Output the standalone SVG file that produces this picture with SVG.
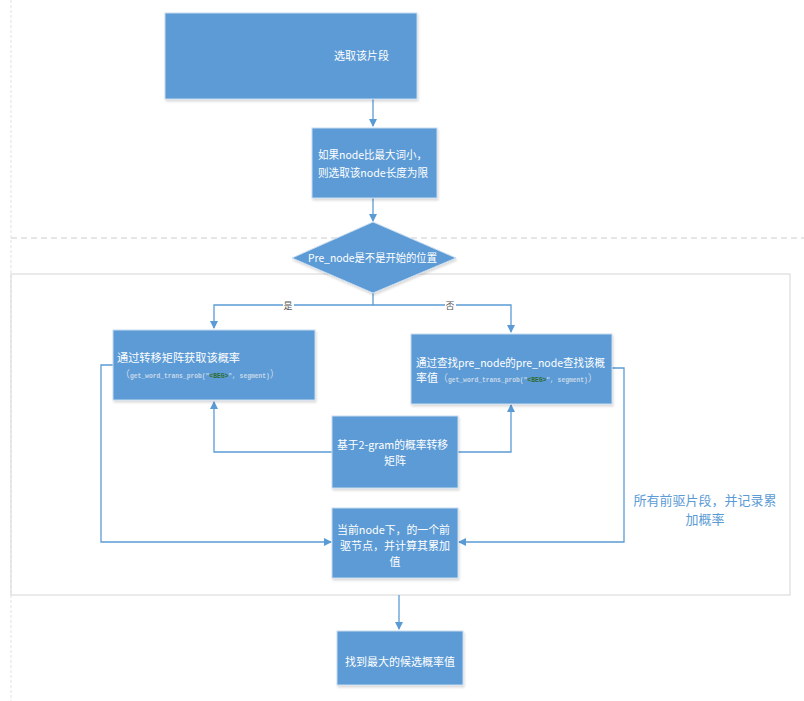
<svg xmlns="http://www.w3.org/2000/svg" width="804" height="701" viewBox="0 0 804 701">
<defs>
<marker id="ah" markerWidth="8" markerHeight="8" refX="7" refY="4" orient="auto" markerUnits="userSpaceOnUse">
<path d="M0,0 L8,4 L0,8 z" fill="#5b9bd5"/>
</marker>
<filter id="sh" x="-5%" y="-5%" width="110%" height="115%">
<feDropShadow dx="1" dy="2" stdDeviation="1.2" flood-color="#000" flood-opacity="0.15"/>
</filter>
</defs>
<style>
.box{fill:#5b9bd5;stroke:#c9dcef;stroke-width:1;filter:url(#sh)}
.t{font-family:"Noto Sans CJK SC","Liberation Sans",sans-serif;font-size:11px;fill:#ffffff}
.c{font-family:"Liberation Mono",monospace;font-size:6.3px;fill:#c9d9ea;font-weight:bold}
.p{fill:#c9d9ea}
.g{fill:#2e6b2e}
.e{fill:none;stroke:#5b9bd5;stroke-width:1.3}
.lab{font-family:"Noto Sans CJK SC",sans-serif;font-size:9px;fill:#555}
.side{font-family:"Noto Sans CJK SC","Liberation Sans",sans-serif;font-size:13px;fill:#5b9bd5}
</style>
<rect width="804" height="701" fill="#ffffff"/>
<g id="guides">
<line x1="11" y1="0" x2="11" y2="701" stroke="#e2e2e2" stroke-dasharray="3,2"/>
<line x1="11" y1="238" x2="804" y2="238" stroke="#cccccc" stroke-dasharray="6,4"/>
<rect x="11" y="274" width="779" height="321" fill="none" stroke="#dcdcdc" stroke-width="1.2"/>
</g>
<g id="connectors">
<path class="e" d="M373,99 V126" marker-end="url(#ah)"/>
<path class="e" d="M373,198 V221" marker-end="url(#ah)"/>
<path class="e" d="M373,293 V305 H214 V328" marker-end="url(#ah)"/>
<path class="e" d="M373,305 H511 V332" marker-end="url(#ah)"/>
<path class="e" d="M332,452 H214 V402" marker-end="url(#ah)"/>
<path class="e" d="M458,452 H511 V405" marker-end="url(#ah)"/>
<path class="e" d="M113,365 H101 V542 H331" marker-end="url(#ah)"/>
<path class="e" d="M612,368 H624 V542 H459" marker-end="url(#ah)"/>
<path class="e" d="M399,595 V629" marker-end="url(#ah)"/>
<rect x="283" y="299" width="11" height="12" fill="#fff"/>
<text class="lab" x="288" y="309" text-anchor="middle">是</text>
<rect x="445" y="299" width="11" height="12" fill="#fff"/>
<text class="lab" x="450" y="309" text-anchor="middle">否</text>
</g>
<g id="n1">
<rect class="box" x="165" y="13" width="252" height="86"/>
<text class="t" x="334" y="60">选取该片段</text>
</g>
<g id="n2">
<rect class="box" x="312" y="128" width="125" height="70"/>
<text class="t" x="318" y="159" textLength="109" lengthAdjust="spacingAndGlyphs">如果node比最大词小，</text>
<text class="t" x="318" y="177" textLength="110" lengthAdjust="spacingAndGlyphs">则选取该node长度为限</text>
</g>
<g id="n3">
<polygon points="373,222 456,258 373,293 292,258" fill="#5b9bd5" stroke="#c9dcef" filter="url(#sh)"/>
<text class="t" x="308" y="262" textLength="129" lengthAdjust="spacingAndGlyphs">Pre_node是不是开始的位置</text>
</g>
<g id="n4">
<rect class="box" x="113" y="330" width="202" height="70"/>
<text class="t" x="117" y="362" textLength="123" lengthAdjust="spacingAndGlyphs">通过转移矩阵获取该概率</text>
<text x="120" y="378" style="font-family:'Noto Sans CJK SC',sans-serif;font-size:10px"><tspan class="p">（</tspan><tspan class="c">get_word_trans_prob("</tspan><tspan class="c g">&lt;BEG&gt;</tspan><tspan class="c">", segment)</tspan><tspan class="p">）</tspan></text>
</g>
<g id="n5">
<rect class="box" x="411" y="334" width="201" height="70"/>
<text class="t" x="416" y="367" textLength="189" lengthAdjust="spacingAndGlyphs">通过查找pre_node的pre_node查找该概</text>
<text class="t" x="416" y="382">率值<tspan class="p" style="font-size:10px">（</tspan><tspan class="c">get_word_trans_prob("</tspan><tspan class="c g">&lt;BEG&gt;</tspan><tspan class="c">", segment)</tspan><tspan class="p" style="font-size:10px">）</tspan></text>
</g>
<g id="n6">
<rect class="box" x="332" y="416" width="126" height="72"/>
<text class="t" x="337" y="449" textLength="111" lengthAdjust="spacingAndGlyphs">基于2-gram的概率转移</text>
<text class="t" x="395" y="465" text-anchor="middle">矩阵</text>
</g>
<g id="n7">
<rect class="box" x="332" y="508" width="126" height="70"/>
<text class="t" x="337" y="534" textLength="113" lengthAdjust="spacingAndGlyphs">当前node下，的一个前</text>
<text class="t" x="395" y="550" text-anchor="middle">驱节点，并计算其累加</text>
<text class="t" x="395" y="566" text-anchor="middle">值</text>
</g>
<g id="n8">
<rect class="box" x="337" y="631" width="126" height="54"/>
<text class="t" x="400" y="666" text-anchor="middle">找到最大的候选概率值</text>
</g>
<g id="note">
<text class="side" x="705" y="505" text-anchor="middle">所有前驱片段，并记录累</text>
<text class="side" x="705" y="524" text-anchor="middle">加概率</text>
</g>
</svg>
